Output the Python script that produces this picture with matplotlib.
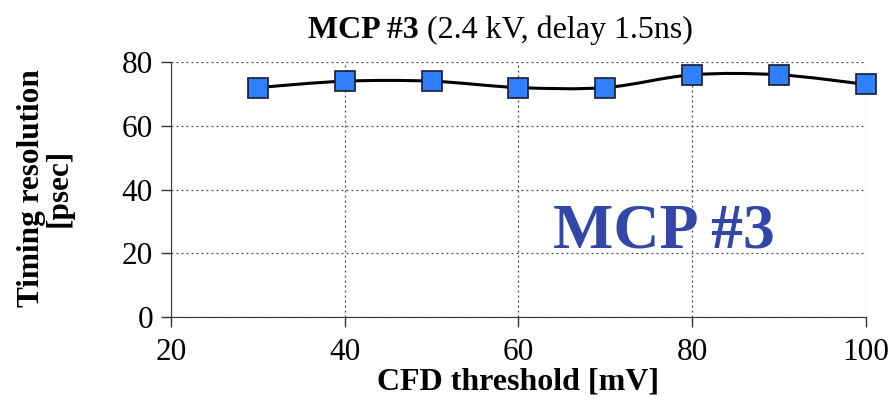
import matplotlib
matplotlib.use("Agg")
import matplotlib.pyplot as plt
import numpy as np
from matplotlib.path import Path
from matplotlib.patches import PathPatch

plt.rcParams['font.family'] = ['Liberation Serif', 'DejaVu Serif']

thresholds = [30, 40, 50, 60, 70, 80, 90, 100]
resolution = [72, 74, 74, 72, 72, 76, 76, 73]
xticks = [20, 40, 60, 80, 100]
yticks = [0, 20, 40, 60, 80]

fig = plt.figure(figsize=(8.88, 4.03), dpi=100)
ax = fig.add_axes([0.1926, 0.2134, 0.7825, 0.6326])
ax.set_xlim(20, 100)
ax.set_ylim(0, 80)

# Excel-style smooth line via cubic Bezier segments
x = np.array(thresholds, float)
y = np.array(resolution, float)
verts = [(x[0], y[0])]
codes = [Path.MOVETO]
n = len(x)
for i in range(n - 1):
    p0 = np.array([x[max(i - 1, 0)], y[max(i - 1, 0)]])
    p1 = np.array([x[i], y[i]])
    p2 = np.array([x[i + 1], y[i + 1]])
    p3 = np.array([x[min(i + 2, n - 1)], y[min(i + 2, n - 1)]])
    c1 = p1 + (p2 - p0) / 6.0
    c2 = p2 - (p3 - p1) / 6.0
    verts += [tuple(c1), tuple(c2), tuple(p2)]
    codes += [Path.CURVE4] * 3
ax.add_patch(PathPatch(Path(verts, codes), facecolor='none', edgecolor='black', lw=2.2, zorder=3))
ax.plot(thresholds, resolution, linestyle='none', marker='s', markersize=14,
        markerfacecolor='#2f80ff', markeredgecolor='#1a1a2e', markeredgewidth=1.2,
        zorder=4, clip_on=False)

ax.set_xticks(xticks)
ax.set_yticks(yticks)
ax.grid(True, linestyle=(0, (1.5, 2.5)), color='#444444', lw=0.9)
for s in ['top', 'right']:
    ax.spines[s].set_visible(False)
ax.spines['left'].set_color('#333333')
ax.spines['bottom'].set_color('#333333')
ax.tick_params(axis='both', direction='out', length=7, width=1, color='#333333', labelsize=22.5)
ax.tick_params(axis='y', pad=6)
ax.tick_params(axis='x', pad=8)

ax.set_xlabel('CFD threshold [mV]', fontsize=23, fontweight='bold')
ax.xaxis.set_label_coords(0.5, -0.198)
ax.xaxis.label.set_va('top')
ax.set_ylabel('Timing resolution\n[psec]', fontsize=22.5, fontweight='bold', linespacing=0.95)
ax.yaxis.set_label_coords(-0.181, 0.505)
ax.yaxis.label.set_va('center')

t1 = fig.text(0.347, 0.906, 'MCP #3', fontsize=23, fontweight='bold', ha='left', va='baseline')
fig.canvas.draw()
bb = t1.get_window_extent()
fig.text(bb.x1 / fig.bbox.width, 0.906, ' (2.4 kV, delay 1.5ns)', fontsize=23, ha='left', va='baseline')

ax.text(0.709, 0.33, 'MCP #3', transform=ax.transAxes, fontsize=46, fontweight='bold',
        color='#3347a8', ha='center', va='center')

fig.savefig('out.png', dpi=100)
